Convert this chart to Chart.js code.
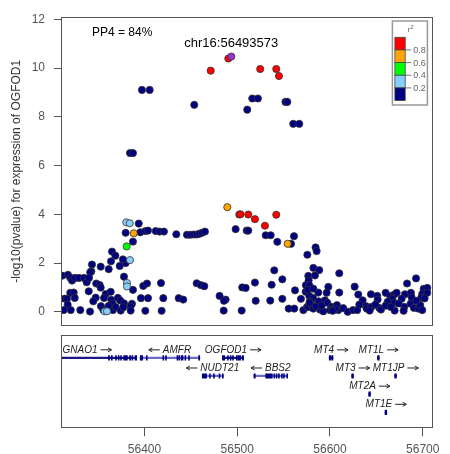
<!DOCTYPE html>
<html>
<head>
<meta charset="utf-8">
<script src="https://cdn.jsdelivr.net/npm/chart.js@4.4.0/dist/chart.umd.min.js"></script>
<style>
  html, body { margin: 0; padding: 0; background: #fff; overflow: hidden; }
  #wrap { position: relative; width: 450px; height: 454px; }
  canvas { position: absolute; left: 0; }
  #assoc { top: 0; width: 450px; height: 330px; }
  #genes { top: 330px; width: 450px; height: 124px; }
</style>
</head>
<body>
<div id="wrap">
  <canvas id="assoc" width="450" height="330"></canvas>
  <canvas id="genes" width="450" height="124"></canvas>
</div>
<script>
// region shown, in kb (hg19, chr16)
const xMin = 56310;
const xMax = 56710;
const xTicks = [56400, 56500, 56600, 56700];
const yTicks = [0, 2, 4, 6, 8, 10, 12];

const pp4Label = 'PP4 = 84%';
const leadLabel = 'chr16:56493573';

// [position kb, -log10 p] grouped by LD bin with the lead SNP
const leadSnp = [[56493.6, 10.47]];
const redSnps = [
  [56490.4, 10.39], [56471.4, 9.89], [56524.8, 9.96], [56542.1, 9.96], [56545.0, 9.67],
  [56502.2, 3.99], [56503.5, 4.00], [56511.9, 3.99], [56519.1, 3.80], [56529.9, 3.53], [56542.1, 3.98]
];
const orangeSnps = [[56489.3, 4.29], [56388.4, 3.22], [56554.4, 2.79]];
const greenSnps = [[56380.8, 2.68]];
const lightBlueSnps = [
  [56380.4, 3.67], [56384.1, 3.63], [56384.4, 2.12], [56381.1, 1.18], [56381.1, 1.04],
  [56357.1, 0.02], [56359.6, 0.02]
];
const navySnps = [
  [56397.3, 9.10], [56405.6, 9.10], [56453.7, 8.49], [56516.2, 8.75], [56522.3, 8.75],
  [56510.8, 8.29], [56552.0, 8.61], [56554.0, 8.61], [56560.4, 7.71], [56566.9, 7.71],
  [56384.4, 6.51], [56387.6, 6.51],
  [56393.8, 3.62], [56379.7, 3.24], [56395.5, 3.26], [56400.9, 3.31], [56403.8, 3.33],
  [56412.1, 3.31], [56416.4, 3.29], [56421.0, 3.29], [56434.3, 3.18], [56445.8, 3.16],
  [56449.4, 3.16], [56453.1, 3.17], [56456.3, 3.17], [56459.1, 3.20], [56462.0, 3.24],
  [56465.2, 3.29], [56498.3, 3.39], [56510.2, 3.33], [56511.9, 3.33], [56530.7, 3.14],
  [56536.1, 3.14], [56543.2, 2.87], [56558.0, 2.79], [56561.2, 3.10], [56387.6, 2.88],
  [56365.0, 2.47], [56368.6, 2.30], [56379.7, 2.00], [56376.8, 2.15], [56363.9, 2.07],
  [56343.4, 1.94], [56373.3, 1.88], [56352.8, 1.85], [56361.4, 1.75], [56342.7, 1.66],
  [56341.5, 1.62], [56311.4, 1.48], [56317.5, 1.52], [56320.0, 1.40], [56321.9, 1.28],
  [56325.4, 1.39], [56329.4, 1.39], [56334.8, 1.39], [56337.7, 1.21], [56340.2, 1.39],
  [56377.9, 1.44], [56348.0, 1.16], [56351.7, 1.10], [56352.8, 0.99], [56387.6, 0.90],
  [56398.7, 1.06], [56402.7, 1.16], [56417.8, 1.18], [56339.9, 0.84], [56358.2, 0.73],
  [56363.6, 0.82], [56320.0, 0.78], [56323.7, 0.79], [56324.8, 0.57], [56314.0, 0.54],
  [56316.5, 0.54], [56347.4, 0.58], [56344.8, 0.43], [56356.4, 0.57], [56364.2, 0.49],
  [56371.4, 0.57], [56373.9, 0.46], [56365.7, 0.33], [56377.9, 0.35], [56386.5, 0.33],
  [56396.2, 0.56], [56403.8, 0.56], [56420.3, 0.56], [56436.9, 0.56], [56441.8, 0.50],
  [56317.2, 0.29], [56320.5, 0.07], [56312.9, 0.07], [56330.8, 0.07], [56341.3, 0.01],
  [56353.1, 0.23], [56355.6, 0.08], [56361.4, 0.24], [56366.1, 0.07], [56369.0, 0.19],
  [56374.4, 0.05], [56377.2, 0.19], [56385.1, 0.22], [56385.1, 0.05], [56400.9, 0.04],
  [56418.5, 0.04],
  [56575.6, 2.34], [56539.9, 1.70], [56548.6, 1.33], [56456.3, 1.17], [56460.9, 1.09],
  [56464.5, 1.05], [56505.4, 1.00], [56509.1, 0.98], [56519.1, 1.20], [56537.1, 1.11],
  [56562.3, 0.88], [56573.8, 0.82], [56481.0, 0.65], [56487.5, 0.50], [56485.7, 0.45],
  [56519.9, 0.45], [56535.6, 0.46], [56548.6, 0.53], [56568.7, 0.53], [56485.4, 0.05],
  [56504.8, 0.05], [56555.5, 0.13], [56561.5, 0.13], [56571.3, 0.07], [56575.3, 0.20],
  [56584.5, 2.64], [56585.6, 2.49], [56582.1, 1.80], [56588.4, 1.71], [56610.0, 1.58],
  [56576.6, 1.47], [56583.8, 1.49], [56577.0, 1.29], [56574.0, 1.09], [56577.7, 1.09],
  [56598.2, 1.02], [56626.6, 1.03], [56683.1, 1.16], [56692.8, 1.37], [56701.0, 0.94],
  [56704.9, 0.98], [56587.4, 0.79], [56596.4, 0.78], [56610.0, 0.79], [56630.5, 0.71],
  [56644.2, 0.72], [56651.0, 0.65], [56660.0, 0.78], [56665.0, 0.64], [56669.3, 0.71],
  [56671.9, 0.78], [56680.8, 0.72], [56687.3, 0.78], [56699.5, 0.73], [56704.9, 0.78],
  [56635.2, 0.47], [56651.4, 0.50], [56667.1, 0.54], [56677.3, 0.54], [56689.1, 0.47],
  [56698.4, 0.58], [56577.7, 0.65], [56581.7, 0.57], [56578.4, 0.43], [56587.8, 0.43],
  [56594.6, 0.47], [56597.1, 0.37], [56576.6, 0.20], [56582.0, 0.13], [56589.2, 0.09],
  [56592.8, 0.02], [56601.8, 0.20], [56607.5, 0.27], [56604.6, 0.11], [56600.0, 0.07],
  [56609.0, 0.07], [56614.3, 0.15], [56619.1, 0.00], [56624.8, 0.07], [56629.4, 0.07],
  [56631.6, 0.29], [56638.8, 0.23], [56639.6, 0.13], [56644.6, 0.20], [56642.8, 0.05],
  [56653.1, 0.16], [56655.0, 0.09], [56662.2, 0.41], [56669.3, 0.37], [56674.0, 0.34],
  [56680.1, 0.20], [56679.4, 0.04], [56669.7, 0.05], [56686.9, 0.33], [56690.5, 0.16],
  [56695.2, 0.13], [56697.3, 0.27], [56699.5, 0.07],
  [56602.5, 0.10], [56606.0, 0.12], [56603.0, 0.04], [56580.0, 0.30], [56584.5, 0.22],
  [56591.0, 0.25], [56576.0, 0.90], [56582.0, 0.95], [56578.0, 0.38], [56660.0, 0.25],
  [56665.5, 0.20], [56649.0, 0.30], [56688.0, 0.60], [56693.0, 0.45], [56702.0, 0.55]
];

// legend, top to bottom
const ldColors = ['#FF0000', '#FFA500', '#00FF00', '#87CEFA', '#000080'];
const ldBreaks = ['0.8', '0.6', '0.4', '0.2'];

// genes
const geneNames  = ['GNAO1', 'AMFR', 'NUDT21', 'OGFOD1', 'BBS2', 'MT4', 'MT3', 'MT2A', 'MT1E', 'MT1L', 'MT1JP'];
const geneStart  = [56225.3, 56395.4, 56462.3, 56484.0, 56518.0, 56599.2, 56623.5, 56641.8, 56659.4, 56651.3, 56669.8];
const geneEnd    = [56391.6, 56459.6, 56485.0, 56506.8, 56554.4, 56603.2, 56625.3, 56643.6, 56661.2, 56653.1, 56671.6];
const geneStrand = ['+', '-', '-', '+', '-', '+', '+', '+', '+', '+', '+'];
const geneRow    = [1, 1, 2, 1, 2, 1, 2, 3, 4, 1, 2];
const geneExons = [
  [[56361.2, 56362.4], [56364.3, 56365.3], [56368.8, 56369.8], [56371.7, 56372.7], [56374.2, 56375.2],
   [56377.6, 56381.6], [56383.9, 56385.0], [56386.4, 56387.4], [56389.8, 56391.6]],
  [[56395.4, 56396.6], [56396.8, 56398.0], [56402.0, 56403.0], [56419.8, 56420.8], [56422.7, 56423.7],
   [56435.0, 56436.0], [56437.0, 56438.0], [56439.5, 56441.6], [56443.6, 56444.6], [56447.5, 56448.5],
   [56458.4, 56459.6]],
  [[56462.3, 56467.0], [56470.1, 56471.1], [56474.4, 56475.4], [56480.4, 56481.4], [56484.0, 56485.0]],
  [[56484.0, 56486.5], [56489.5, 56490.5], [56492.4, 56493.4], [56494.9, 56495.9], [56499.0, 56500.2],
   [56501.0, 56503.7], [56505.4, 56506.8]],
  [[56518.0, 56519.5], [56530.7, 56537.8], [56539.5, 56540.5], [56542.0, 56543.0], [56544.5, 56545.5],
   [56547.7, 56548.7], [56549.9, 56550.9], [56553.4, 56554.4]],
  [[56599.2, 56600.7], [56601.8, 56603.2]],
  [[56623.5, 56625.3]],
  [[56641.8, 56643.6]],
  [[56659.4, 56661.2]],
  [[56651.3, 56653.1]],
  [[56669.8, 56671.6]]
];

const baseFont = '"Liberation Sans", Arial, Helvetica, sans-serif';
const axisGrey = '#555';

function toPoints(list) {
  return list.map(p => ({ x: p[0], y: p[1] }));
}

function snpSet(list, color) {
  return {
    data: toPoints(list),
    backgroundColor: color,
    borderColor: '#333',
    borderWidth: 0.8,
    pointRadius: 3.6
  };
}

const frame = {
  id: 'frame',
  afterDraw(chart) {
    const { ctx, chartArea: a } = chart;
    ctx.save();
    ctx.strokeStyle = axisGrey;
    ctx.lineWidth = 1;
    ctx.strokeRect(Math.round(a.left) + 0.5, Math.round(a.top) + 0.5,
      Math.round(a.right - a.left), Math.round(a.bottom - a.top));
    ctx.restore();
  }
};

const annotations = {
  id: 'annotations',
  afterDatasetsDraw(chart) {
    const { ctx, chartArea: a, scales: { x } } = chart;
    ctx.save();
    ctx.fillStyle = '#000';
    ctx.textBaseline = 'middle';
    ctx.textAlign = 'left';
    ctx.font = '12px ' + baseFont;
    ctx.fillText(pp4Label, a.left + 31, a.top + 15);
    ctx.font = '13px ' + baseFont;
    ctx.textAlign = 'center';
    ctx.fillText(leadLabel, x.getPixelForValue(leadSnp[0][0]), a.top + 26);

    // r2 colour key
    const bx = a.right - 39.6, by = a.top + 3.7;
    ctx.strokeStyle = '#999';
    ctx.lineWidth = 1.5;
    ctx.strokeRect(bx, by, 35, 84);
    ctx.fillStyle = '#666';
    ctx.font = '8px ' + baseFont;
    ctx.fillText('r', bx + 16.5, by + 9);
    ctx.font = '6px ' + baseFont;
    ctx.fillText('2', bx + 19.5, by + 6);

    const kx = bx + 2.5, ky = by + 16.3, kw = 10.3, kh = 12.65;
    ldColors.forEach((c, i) => {
      ctx.fillStyle = c;
      ctx.fillRect(kx, ky + i * kh, kw, kh);
      ctx.strokeStyle = '#444';
      ctx.lineWidth = 0.8;
      ctx.strokeRect(kx, ky + i * kh, kw, kh);
    });
    ctx.font = '9px ' + baseFont;
    ctx.textAlign = 'left';
    ldBreaks.forEach((t, i) => {
      const ty = ky + (i + 1) * kh;
      ctx.strokeStyle = '#555';
      ctx.lineWidth = 0.8;
      ctx.beginPath();
      ctx.moveTo(kx + kw, ty);
      ctx.lineTo(kx + kw + 6, ty);
      ctx.stroke();
      ctx.fillStyle = '#666';
      ctx.fillText(t, kx + kw + 8, ty + 0.5);
    });
    ctx.restore();
  }
};

function drawArrow(ctx, x0, x1, y, dir) {
  ctx.beginPath();
  ctx.moveTo(x0, y);
  ctx.lineTo(x1, y);
  const tip = dir > 0 ? x1 : x0;
  ctx.moveTo(tip - dir * 3.5, y - 2);
  ctx.lineTo(tip, y);
  ctx.lineTo(tip - dir * 3.5, y + 2);
  ctx.stroke();
}

const geneLabels = {
  id: 'geneLabels',
  afterDatasetsDraw(chart) {
    const { ctx, chartArea: a, scales: { x, y } } = chart;
    ctx.save();
    ctx.font = 'italic 10px ' + baseFont;
    ctx.fillStyle = '#222';
    ctx.strokeStyle = '#222';
    ctx.lineWidth = 1;
    ctx.textBaseline = 'middle';
    ctx.textAlign = 'left';
    geneNames.forEach((name, i) => {
      const tw = ctx.measureText(name).width;
      const arrowW = 11, gap = 3;
      const w = tw + gap + arrowW;
      const cx = x.getPixelForValue((geneStart[i] + geneEnd[i]) / 2);
      let left = Math.max(cx - w / 2, a.left + 1.5);
      const yy = y.getPixelForValue(geneRow[i]) - 8;
      if (geneStrand[i] === '+') {
        ctx.fillText(name, left, yy);
        drawArrow(ctx, left + tw + gap, left + w, yy, 1);
      } else {
        drawArrow(ctx, left, left + arrowW, yy, -1);
        ctx.fillText(name, left + arrowW + gap, yy);
      }
    });
    ctx.restore();
  }
};

new Chart(document.getElementById('assoc').getContext('2d'), {
  type: 'scatter',
  data: {
    datasets: [
      snpSet(leadSnp, '#9933CC'),
      snpSet(redSnps, '#FF0000'),
      snpSet(orangeSnps, '#FFA500'),
      snpSet(greenSnps, '#00FF00'),
      snpSet(lightBlueSnps, '#87CEFA'),
      snpSet(navySnps, '#000080')
    ]
  },
  options: {
    responsive: false,
    maintainAspectRatio: false,
    animation: false,
    layout: { padding: { left: 0, right: 18, top: 17.3, bottom: 3.3 } },
    plugins: { legend: { display: false }, tooltip: { enabled: false } },
    scales: {
      x: { type: 'linear', min: xMin, max: xMax, display: false },
      y: {
        type: 'linear',
        min: -0.55,
        max: 12.08,
        afterBuildTicks: s => { s.ticks = yTicks.map(v => ({ value: v })); },
        afterFit: s => { s.width = 61; s.paddingTop = 0; s.paddingBottom = 0; },
        border: { display: false },
        grid: { drawOnChartArea: false, drawTicks: true, tickLength: 7, color: axisGrey },
        ticks: { color: axisGrey, padding: 9, font: { size: 12, family: baseFont }, callback: v => v },
        title: {
          display: true,
          text: '-log10(pvalue) for expression of OGFOD1',
          color: '#333',
          font: { size: 12, family: baseFont },
          padding: { top: 9, bottom: 0 }
        }
      }
    }
  },
  plugins: [frame, annotations]
});

const intronData = geneNames.map((n, i) => ({ x: [geneStart[i], geneEnd[i]], y: geneRow[i] }));
const exonData = [];
geneExons.forEach((list, i) => {
  list.forEach(e => exonData.push({ x: [e[0], e[1]], y: geneRow[i] }));
});

new Chart(document.getElementById('genes').getContext('2d'), {
  type: 'bar',
  data: {
    datasets: [
      { data: exonData, backgroundColor: '#000080', barThickness: 4.5, grouped: false, borderWidth: 0 },
      {
        data: intronData,
        backgroundColor: geneStrand.map(s => s === '+' ? '#1a1a85' : '#6c6cc6'),
        barThickness: 1.6, grouped: false, borderWidth: 0
      }
    ]
  },
  options: {
    indexAxis: 'y',
    responsive: false,
    maintainAspectRatio: false,
    animation: false,
    layout: { padding: { left: 61, right: 18, top: 5, bottom: 0 } },
    plugins: { legend: { display: false }, tooltip: { enabled: false } },
    scales: {
      y: { type: 'linear', min: 0.251, max: 4.317, reverse: true, display: false },
      x: {
        type: 'linear',
        min: xMin,
        max: xMax,
        afterBuildTicks: s => { s.ticks = xTicks.map(v => ({ value: v })); },
        afterFit: s => { s.height = 124 - 97.3; s.paddingLeft = 0; s.paddingRight = 0; },
        border: { display: false },
        grid: { drawOnChartArea: false, drawTicks: true, tickLength: 9, color: axisGrey },
        ticks: { color: axisGrey, padding: 6, maxRotation: 0, font: { size: 12, family: baseFont }, callback: v => String(v) }
      }
    }
  },
  plugins: [frame, geneLabels]
});
</script>
</body>
</html>
